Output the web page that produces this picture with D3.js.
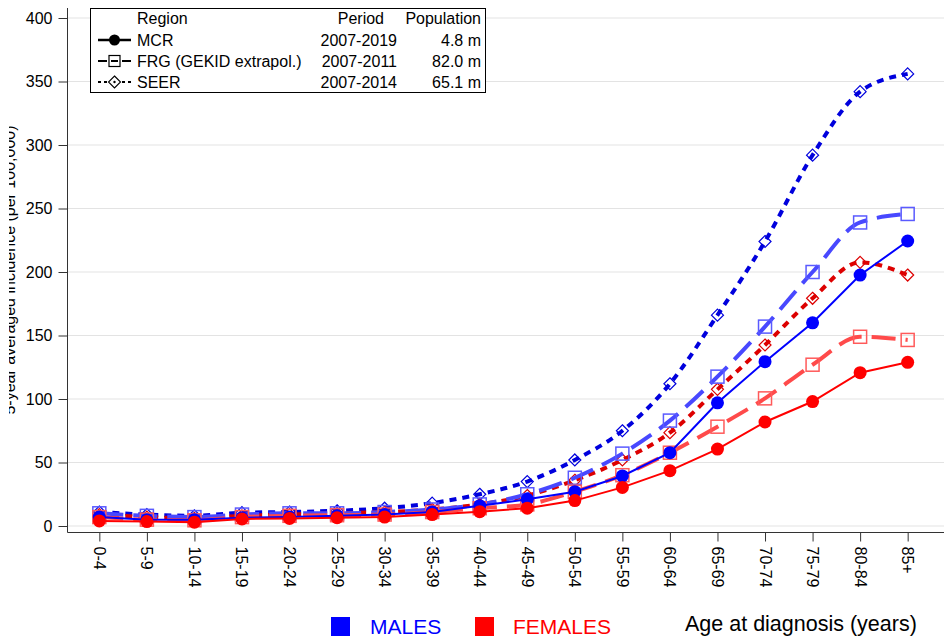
<!DOCTYPE html>
<html>
<head>
<meta charset="utf-8">
<script src="https://cdn.jsdelivr.net/npm/d3@7/dist/d3.min.js"></script>
<style>
  html, body { margin: 0; padding: 0; background: #fff; }
  svg { display: block; font-family: "Liberation Sans", Arial, sans-serif; }
</style>
</head>
<body>
<svg id="chart" width="944" height="642"></svg>
<script>
// Age groups at diagnosis
const ageGroups = ["0-4","5-9","10-14","15-19","20-24","25-29","30-34","35-39","40-44",
  "45-49","50-54","55-59","60-64","65-69","70-74","75-79","80-84","85+"];

// Incidence per 100,000, by registry and sex
const mcrMales     = [7, 5, 5, 6.5, 7, 8, 9, 11, 16, 21, 27, 39.4, 57.7, 97, 129.4, 160, 197.6, 224.4];
const mcrFemales   = [4, 3.5, 3, 5.5, 6, 6.5, 7, 9, 11.3, 14, 20, 30.4, 43.6, 60.6, 81.9, 98, 120.7, 128.9];
const frgMales     = [10, 8, 7, 9, 10, 10, 11, 13, 17, 25, 38, 57, 83, 117.6, 157, 200, 239, 245.7];
const frgFemales   = [7, 5, 4.5, 7, 8, 8.5, 9, 11, 14, 17, 27, 40, 57.7, 78.2, 100.5, 127, 149, 146.5];
const seerMales    = [11, 9, 8, 10.5, 11, 12, 14, 18, 25, 35, 52, 75, 112, 166, 224, 292, 342, 356];
const seerFemales  = [9, 7, 6, 8, 9, 10, 11, 13, 17, 24, 36, 52, 73.5, 107.6, 142.5, 179.3, 207.6, 197.6];

const yTicks = [0, 50, 100, 150, 200, 250, 300, 350, 400];

// Legend rows: region, period, population
const legendRegions = ["MCR", "FRG (GEKID extrapol.)", "SEER"];
const legendPeriods = ["2007-2019", "2007-2011", "2007-2014"];
const legendPopulations = ["4.8 m", "82.0 m", "65.1 m"];

const svg = d3.select("#chart");

const x = d3.scalePoint().domain(ageGroups).range([67, 940]).padding(0.68);
const y = d3.scaleLinear().domain([0, 400]).range([526, 18]);

// Horizontal gridlines
svg.append("g").selectAll("line").data(yTicks).join("line")
  .attr("x1", 68).attr("x2", 944)
  .attr("y1", d => y(d)).attr("y2", d => y(d))
  .attr("stroke", "#e3e3e3").attr("stroke-width", 1);

// Y axis
const yAxis = svg.append("g").attr("transform", "translate(67.5,0)")
  .call(d3.axisLeft(y).tickValues(yTicks).tickSize(9).tickPadding(6));
yAxis.select(".domain").attr("d", "M0,8V532.5");
yAxis.selectAll("text").attr("font-size", 16).attr("fill", "#000")
  .style("font-family", "Liberation Sans, Arial, sans-serif");
yAxis.selectAll("line, path").attr("stroke", "#333");

// X axis
const xAxis = svg.append("g").attr("transform", "translate(0,532.5)")
  .call(d3.axisBottom(x).tickSize(9).tickPadding(0));
xAxis.select(".domain").attr("d", "M67.5,0H944");
xAxis.selectAll("line, path").attr("stroke", "#333");
xAxis.selectAll("text")
  .attr("font-size", 16).attr("fill", "#000")
  .style("font-family", "Liberation Sans, Arial, sans-serif")
  .attr("text-anchor", "start")
  .attr("dy", null).attr("y", 0)
  .attr("transform", "translate(-6,14) rotate(90)");

// Y axis title, partly clipped at the left edge
const defs = svg.append("defs");
defs.append("clipPath").attr("id", "ytitle-clip")
  .append("rect").attr("x", 9).attr("y", 0).attr("width", 40).attr("height", 642);
svg.append("g").attr("clip-path", "url(#ytitle-clip)")
  .append("text")
  .attr("transform", "translate(15,270) rotate(-90)")
  .attr("text-anchor", "middle")
  .attr("font-size", 16)
  .text("5-year averaged incidence (per 100,000)");

// Series definitions
const series = [
  { values: seerMales,   color: "#0000dd", width: 4,   dash: "7,6",   curve: d3.curveMonotoneX, marker: "diamond", mcolor: "#0000dd" },
  { values: seerFemales, color: "#dd0000", width: 4,   dash: "7,6",   curve: d3.curveMonotoneX, marker: "diamond", mcolor: "#dd0000" },
  { values: frgMales,    color: "#4848ff", width: 4,   dash: "24,10", curve: d3.curveMonotoneX, marker: "square",  mcolor: "#5a5aff" },
  { values: frgFemales,  color: "#ff4a4a", width: 4,   dash: "24,10", curve: d3.curveMonotoneX, marker: "square",  mcolor: "#ff5a5a" },
  { values: mcrMales,    color: "#0000ff", width: 2,   dash: null,    curve: d3.curveLinear,    marker: "circle",  mcolor: "#0000ff" },
  { values: mcrFemales,  color: "#ff0000", width: 2,   dash: null,    curve: d3.curveLinear,    marker: "circle",  mcolor: "#ff0000" }
];

const plot = svg.append("g");

series.forEach(s => {
  const pts = s.values.map((v, i) => [x(ageGroups[i]), y(v)]);
  const line = d3.line().curve(s.curve);
  plot.append("path")
    .attr("d", line(pts))
    .attr("fill", "none")
    .attr("stroke", s.color)
    .attr("stroke-width", s.width)
    .attr("stroke-dasharray", s.dash);

  const g = plot.append("g");
  if (s.marker === "circle") {
    g.selectAll("circle").data(pts).join("circle")
      .attr("cx", d => d[0]).attr("cy", d => d[1]).attr("r", 6.5)
      .attr("fill", s.mcolor);
  } else if (s.marker === "square") {
    g.selectAll("rect").data(pts).join("rect")
      .attr("x", d => d[0] - 6.5).attr("y", d => d[1] - 6.5)
      .attr("width", 13).attr("height", 13)
      .attr("fill", "none").attr("stroke", s.mcolor).attr("stroke-width", 1.5);
  } else {
    g.selectAll("path").data(pts).join("path")
      .attr("d", d => `M${d[0]},${d[1] - 6}L${d[0] + 6},${d[1]}L${d[0]},${d[1] + 6}L${d[0] - 6},${d[1]}Z`)
      .attr("fill", "none").attr("stroke", s.mcolor).attr("stroke-width", 1.2);
  }
});

// Legend box
const lg = svg.append("g");
lg.append("rect").attr("x", 90.5).attr("y", 8.5).attr("width", 395).attr("height", 84)
  .attr("fill", "#fff").attr("stroke", "#000").attr("stroke-width", 1);

const fs = 16;
lg.append("text").attr("x", 137).attr("y", 24).attr("font-size", fs).text("Region");
lg.append("text").attr("x", 384).attr("y", 24).attr("font-size", fs).attr("text-anchor", "end").text("Period");
lg.append("text").attr("x", 481).attr("y", 24).attr("font-size", fs).attr("text-anchor", "end").text("Population");

const rowY = [46, 67, 88];
const dashes = [null, "9,3", "3,3"];
legendRegions.forEach((r, i) => {
  const cy = rowY[i] - 6;
  lg.append("line").attr("x1", 98).attr("x2", 131).attr("y1", cy).attr("y2", cy)
    .attr("stroke", "#000").attr("stroke-width", i === 0 ? 2.5 : 2)
    .attr("stroke-dasharray", dashes[i]);
  if (i === 0) {
    lg.append("circle").attr("cx", 114.5).attr("cy", cy).attr("r", 5.5).attr("fill", "#000");
  } else if (i === 1) {
    lg.append("rect").attr("x", 109).attr("y", cy - 5.5).attr("width", 11).attr("height", 11)
      .attr("fill", "#fff").attr("stroke", "#000").attr("stroke-width", 1.2);
    lg.append("line").attr("x1", 111).attr("x2", 118).attr("y1", cy).attr("y2", cy)
      .attr("stroke", "#000").attr("stroke-width", 2);
  } else {
    lg.append("path").attr("d", `M114.5,${cy - 6}L120.5,${cy}L114.5,${cy + 6}L108.5,${cy}Z`)
      .attr("fill", "#fff").attr("stroke", "#000").attr("stroke-width", 1.1);
    lg.append("circle").attr("cx", 114.5).attr("cy", cy).attr("r", 1.2).attr("fill", "#000");
  }
  lg.append("text").attr("x", 137).attr("y", rowY[i]).attr("font-size", fs).text(r);
  lg.append("text").attr("x", 397).attr("y", rowY[i]).attr("font-size", fs).attr("text-anchor", "end").text(legendPeriods[i]);
  lg.append("text").attr("x", 481).attr("y", rowY[i]).attr("font-size", fs).attr("text-anchor", "end").text(legendPopulations[i]);
});

// Sex legend and x axis title
const sexes = [
  { label: "MALES", color: "#0000ff", sx: 331, tx: 370 },
  { label: "FEMALES", color: "#ff0000", sx: 475, tx: 513 }
];
sexes.forEach(s => {
  svg.append("rect").attr("x", s.sx).attr("y", 617).attr("width", 19).attr("height", 19).attr("fill", s.color);
  svg.append("text").attr("x", s.tx).attr("y", 634).attr("font-size", 21).attr("fill", s.color).text(s.label);
});
svg.append("text").attr("x", 685).attr("y", 631).attr("font-size", 21.5).attr("fill", "#000")
  .text("Age at diagnosis (years)");
</script>
</body>
</html>
